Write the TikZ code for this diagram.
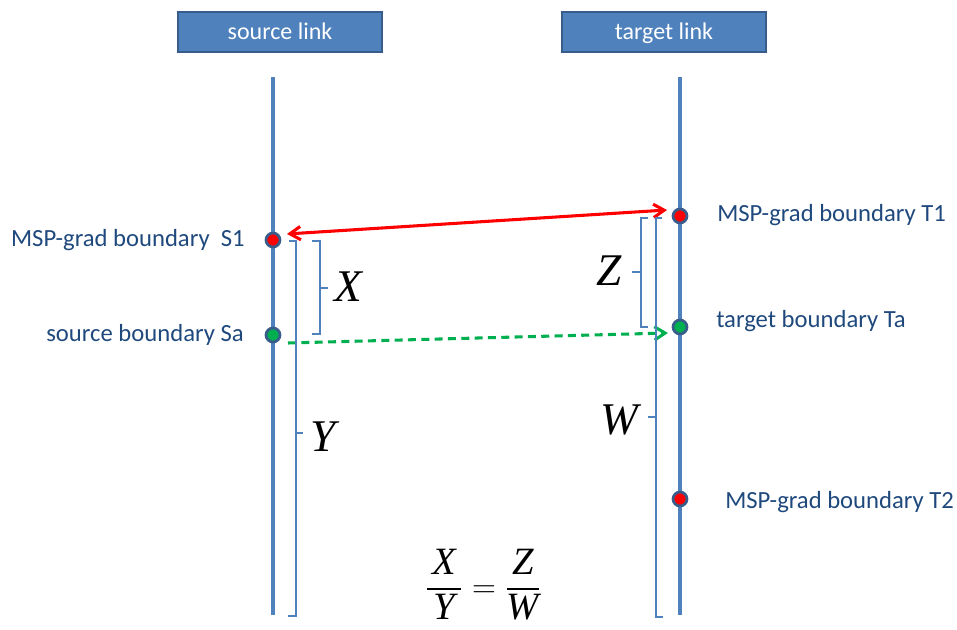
\documentclass[tikz,border=0pt]{standalone}
\usepackage{amsmath}
\usepackage{fontspec}
\setmainfont{Carlito}
\newfontfamily\eqfont{Liberation Serif}
\newcommand{\eqvar}[1]{\text{\eqfont\itshape #1}}
\usetikzlibrary{arrows.meta}
\definecolor{linkblue}{RGB}{79,129,189}
\definecolor{darkblue}{RGB}{56,93,138}
\definecolor{labelblue}{RGB}{31,73,125}
\definecolor{ptgreen}{RGB}{0,176,80}

\begin{document}
\begin{tikzpicture}[x=0.75pt, y=-0.75pt,
    linkbox/.style={draw=darkblue, line width=1.5pt, fill=linkblue, text=white,
      minimum width=153pt, minimum height=30pt, text height=14pt, text depth=2pt,
      font=\fontsize{18}{22}\selectfont},
    axis/.style={linkblue, line width=2.4pt},
    dot/.style={circle, draw=darkblue, line width=2pt, inner sep=0pt, minimum size=10.5pt},
    lbl/.style={text=labelblue, font=\fontsize{18.5}{22}\selectfont, inner sep=0pt},
    brace/.style={linkblue, line width=1.2pt},
    var/.style={font=\fontsize{34}{38}\eqfont\itshape, inner sep=0pt}]
    \useasboundingbox (0,0) rectangle (957,630);

    % 1. link boxes
    \node[linkbox] (src) at (280,32) {source link};
    \node[linkbox] (tgt) at (664,32) {target link};

    % 2. the two links
    \coordinate (Stop) at (273,77);
    \coordinate (Sbot) at (273,615);
    \coordinate (Ttop) at (680,77);
    \coordinate (Tbot) at (680,615);
    \draw[axis] (Stop) -- (Sbot);
    \draw[axis] (Ttop) -- (Tbot);

    % 3. boundary points
    \node[dot, fill=red] (S1) at (273,240) {};
    \node[dot, fill=ptgreen] (Sa) at (273,335) {};
    \node[dot, fill=red] (T1) at (680,216) {};
    \node[dot, fill=ptgreen] (Ta) at (680,327) {};
    \node[dot, fill=red] (T2) at (680,499) {};

    % 4. labels of the points
    \node[lbl, anchor=east] (lS1) at (245,240) {MSP-grad boundary\ \ S1};
    \node[lbl, anchor=east] (lSa) at (244,335) {source boundary Sa};
    \node[lbl, anchor=west] (lT1) at (717,215) {MSP-grad boundary T1};
    \node[lbl, anchor=west] (lTa) at (716,321) {target boundary Ta};
    \node[lbl, anchor=west] (lT2) at (725,502) {MSP-grad boundary T2};

    % 5. mapping arrows
    \draw[red, line width=2.3pt, {Straight Barb[length=8pt,width=10pt]}-{Straight Barb[length=8pt,width=10pt]}]
      ([shift={(14,-6)}]S1.center) -- ([shift={(-13,-6)}]T1.center);
    \draw[ptgreen, line width=2.3pt, dash pattern=on 6pt off 4pt, -{Straight Barb[length=8pt,width=10pt]}]
      ([shift={(15,8)}]Sa.center) -- ([shift={(-12,6)}]Ta.center);

    % 6. brackets on the source side
    \draw[brace] (312,241) -- (320,241) -- (320,334) -- (312,334);
    \draw[brace] (320,288) -- (328,288);
    \draw[brace] (289,241) -- (296,241) -- (296,616) -- (288,616);
    \draw[brace] (296,433) -- (303,433);
    \node[var] (X) at (348,287) {X};
    \node[var] (Y) at (323,437) {Y};

    % 7. brackets on the target side
    \draw[brace] (648,218) -- (641,218) -- (641,327) -- (648,327);
    \draw[brace] (641,272) -- (632,272);
    \draw[brace] (662,218) -- (656,218) -- (656,617) -- (663,617);
    \draw[brace] (656,417) -- (648,417);
    \node[var] (Z) at (609,271) {Z};
    \node[var] (W) at (619,420) {W};

    % 8. ratio
    \node (ratio) at (483,585) {\fontsize{29}{33}\selectfont
      $\dfrac{\,\eqvar{X}\,}{\,\eqvar{Y}\,}=\dfrac{\,\eqvar{Z}\,}{\eqvar{W}}$};
\end{tikzpicture}
\end{document}
